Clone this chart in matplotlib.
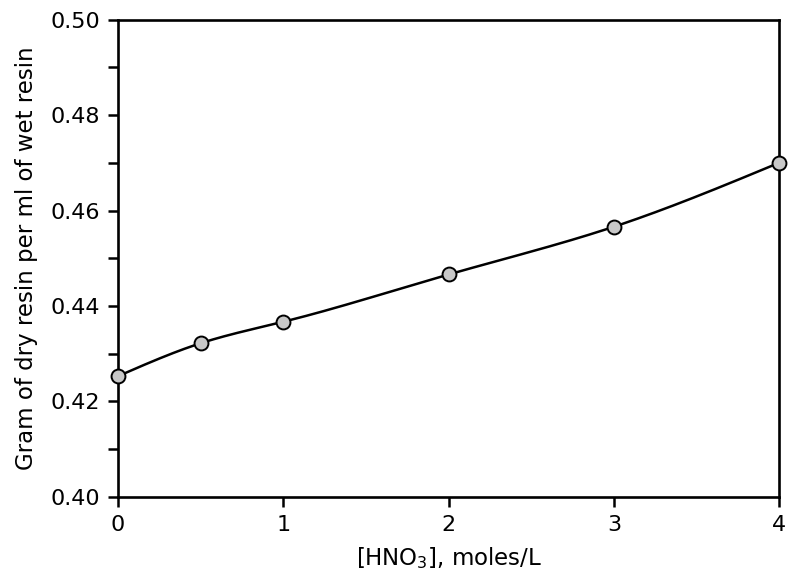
import numpy as np
import matplotlib
matplotlib.use("Agg")
import matplotlib.pyplot as plt
from matplotlib.ticker import MultipleLocator

conc = [0, 0.5, 1, 2, 3, 4]
density = [0.4253, 0.4322, 0.4367, 0.4466, 0.4566, 0.4700]

x_ticks = [0, 1, 2, 3, 4]
y_ticks = [0.40, 0.42, 0.44, 0.46, 0.48, 0.50]
y_ticklabels = ["0.40", "0.42", "0.44", "0.46", "0.48", "0.50"]


def natural_spline(x, y, xs):
    x = np.asarray(x, float); y = np.asarray(y, float)
    n = len(x)
    h = np.diff(x)
    A = np.zeros((n, n)); b = np.zeros(n)
    A[0, 0] = 1; A[-1, -1] = 1
    for i in range(1, n - 1):
        A[i, i - 1] = h[i - 1]
        A[i, i] = 2 * (h[i - 1] + h[i])
        A[i, i + 1] = h[i]
        b[i] = 3 * ((y[i + 1] - y[i]) / h[i] - (y[i] - y[i - 1]) / h[i - 1])
    c = np.linalg.solve(A, b)
    out = np.empty_like(xs)
    for k, xv in enumerate(xs):
        i = min(max(np.searchsorted(x, xv) - 1, 0), n - 2)
        dx = xv - x[i]
        bi = (y[i + 1] - y[i]) / h[i] - h[i] * (2 * c[i] + c[i + 1]) / 3
        di = (c[i + 1] - c[i]) / (3 * h[i])
        out[k] = y[i] + bi * dx + c[i] * dx ** 2 + di * dx ** 3
    return out


plt.rcParams['font.family'] = ['DejaVu Sans']
fig = plt.figure(figsize=(8, 5.88), dpi=100)
ax = fig.add_axes([0.1475, 0.1548, 0.974 - 0.1475, 0.9668 - 0.1548])

xs = np.linspace(conc[0], conc[-1], 300)
ax.plot(xs, natural_spline(conc, density, xs), color='black', lw=1.8, zorder=2)
ax.plot(conc, density, 'o', ms=10, mfc='#c8c8c8', mec='black', mew=1.4,
        zorder=3, clip_on=False)

ax.set_xlim(0, 4)
ax.set_ylim(0.40, 0.50)
ax.set_xticks(x_ticks)
ax.set_xticklabels([str(t) for t in x_ticks])
ax.set_yticks(y_ticks)
ax.set_yticklabels(y_ticklabels)
ax.yaxis.set_minor_locator(MultipleLocator(0.01))
ax.tick_params(which='both', direction='out', width=1.8, labelsize=16, color='black')
ax.tick_params(which='major', length=7, pad=6)
ax.tick_params(which='minor', length=7)
for s in ax.spines.values():
    s.set_linewidth(1.9)

ax.set_xlabel(r'[HNO$_3$], moles/L', fontsize=16.5, labelpad=7)
ax.set_ylabel('Gram of dry resin per ml of wet resin', fontsize=16.5, labelpad=9)

fig.savefig('out.png', dpi=100)
